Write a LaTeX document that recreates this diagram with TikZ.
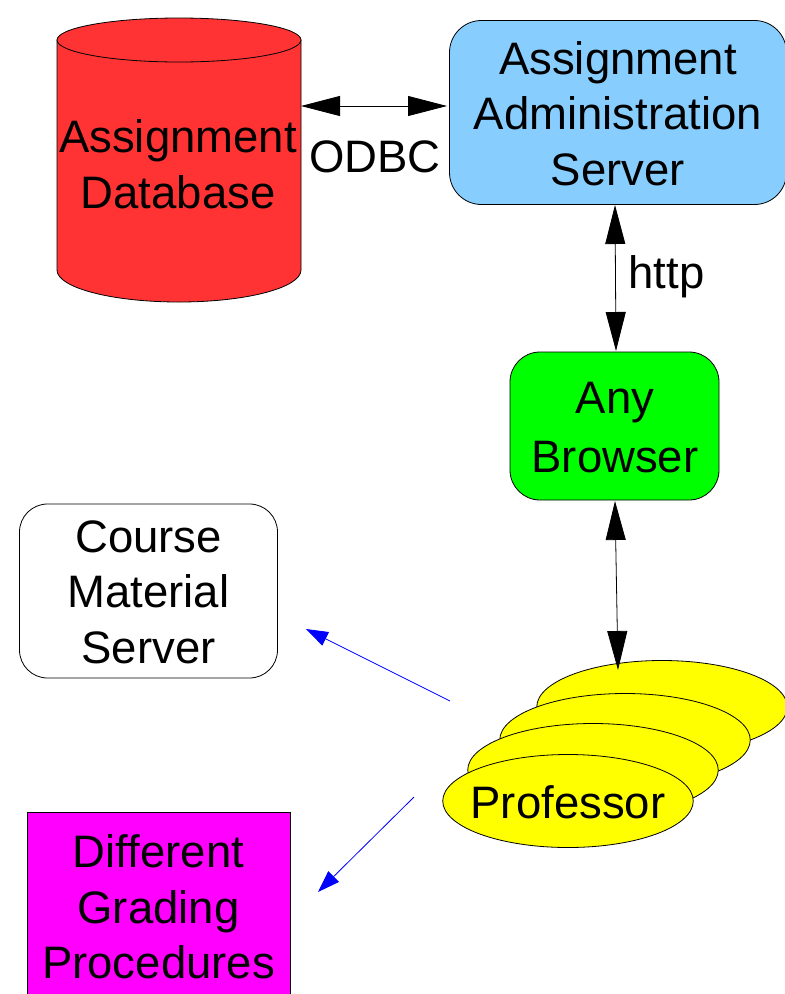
\documentclass[tikz,border=0pt]{standalone}
\usepackage{fontspec}
\setmainfont{Liberation Sans}
\usetikzlibrary{arrows.meta,shapes.geometric}
\definecolor{cyl}{RGB}{255,51,51}
\definecolor{srvc}{RGB}{135,206,255}
\definecolor{yel}{RGB}{255,255,0}
\definecolor{mag}{RGB}{255,0,255}
\definecolor{grn}{RGB}{0,255,0}
\definecolor{blu}{RGB}{0,0,255}
\tikzset{
 lbl/.style={font=\fontsize{45.5}{55.5}\selectfont,align=center,inner sep=0pt,text=black},
 rbox/.style={draw=black,line width=0.8pt,rounded corners=#1},
 prof/.style={draw=black,line width=0.8pt,fill=yel,ellipse,minimum width=250.5pt,minimum height=93pt,inner sep=0pt},
 dbl/.style={line width=0.8pt,{Triangle[length=39pt,width=20pt]}-{Triangle[length=39pt,width=20pt]}},
 bluarr/.style={draw=blu,line width=0.8pt,-{Triangle[length=22pt,width=15pt]}},
}
\begin{document}
\begin{tikzpicture}[x=1pt,y=-1pt]
\useasboundingbox (0,0) rectangle (785,994);
% cylinder
\path[fill=cyl,draw=black,line width=0.8pt] (57,40) -- (57,270) arc[x radius=122,y radius=32,start angle=180,end angle=0] -- (301,40) -- cycle;
\draw[fill=cyl,line width=0.8pt] (179,40) ellipse[x radius=122,y radius=22];
\coordinate (dbE) at (301,106);
\node[lbl] (db) at (178,164) {Assignment\\Database};
% server
\node[rbox=32pt,fill=srvc,minimum width=337pt,minimum height=184pt,inner sep=0pt] (srv) at (618,112.5) {};
\node[lbl] at (618,113.5) {Assignment\\Administration\\Server};
% browser
\node[rbox=30pt,fill=grn,minimum width=209pt,minimum height=148pt,inner sep=0pt] (br) at (614.5,426) {};
\node[lbl,font=\fontsize{45.5}{59}\selectfont] at (615,428) {Any\\Browser};
% course
\node[rbox=28pt,fill=white,minimum width=258pt,minimum height=174pt,inner sep=0pt] (cm) at (148.5,591) {};
\node[lbl] at (148.5,592) {Course\\Material\\Server};
% grading
\node[draw=black,line width=0.8pt,fill=mag,minimum width=263pt,minimum height=182pt,inner sep=0pt] (gr) at (158.5,903) {};
\node[lbl] at (158.5,907) {Different\\Grading\\Procedures};
% professors
\node[prof] (p4) at (662,707) {};
\node[prof] (p3) at (625,740) {};
\node[prof] (p2) at (593,770) {};
\node[prof] (p1) at (568,801) {};
\node[lbl] at (568,802) {Professor};
% labels
\node[lbl] (odbc) at (375,156.5) {ODBC};
\node[lbl] (http) at (666.5,277) {http};
% connectors
\coordinate (a1) at (447,106);
\draw[dbl] (dbE) -- (a1);
\coordinate (s1) at (615,205);
\coordinate (b1) at (616,351);
\draw[dbl] (s1) -- (b1);
\coordinate (b2) at (615,501);
\coordinate (p4n) at (618,670);
\draw[dbl] (b2) -- (p4n);
\coordinate (f1) at (450,701);
\coordinate (t1) at (306,629);
\draw[bluarr] (f1) -- (t1);
\coordinate (f2) at (414,797);
\coordinate (t2) at (318,892);
\draw[bluarr] (f2) -- (t2);
\end{tikzpicture}
\end{document}
